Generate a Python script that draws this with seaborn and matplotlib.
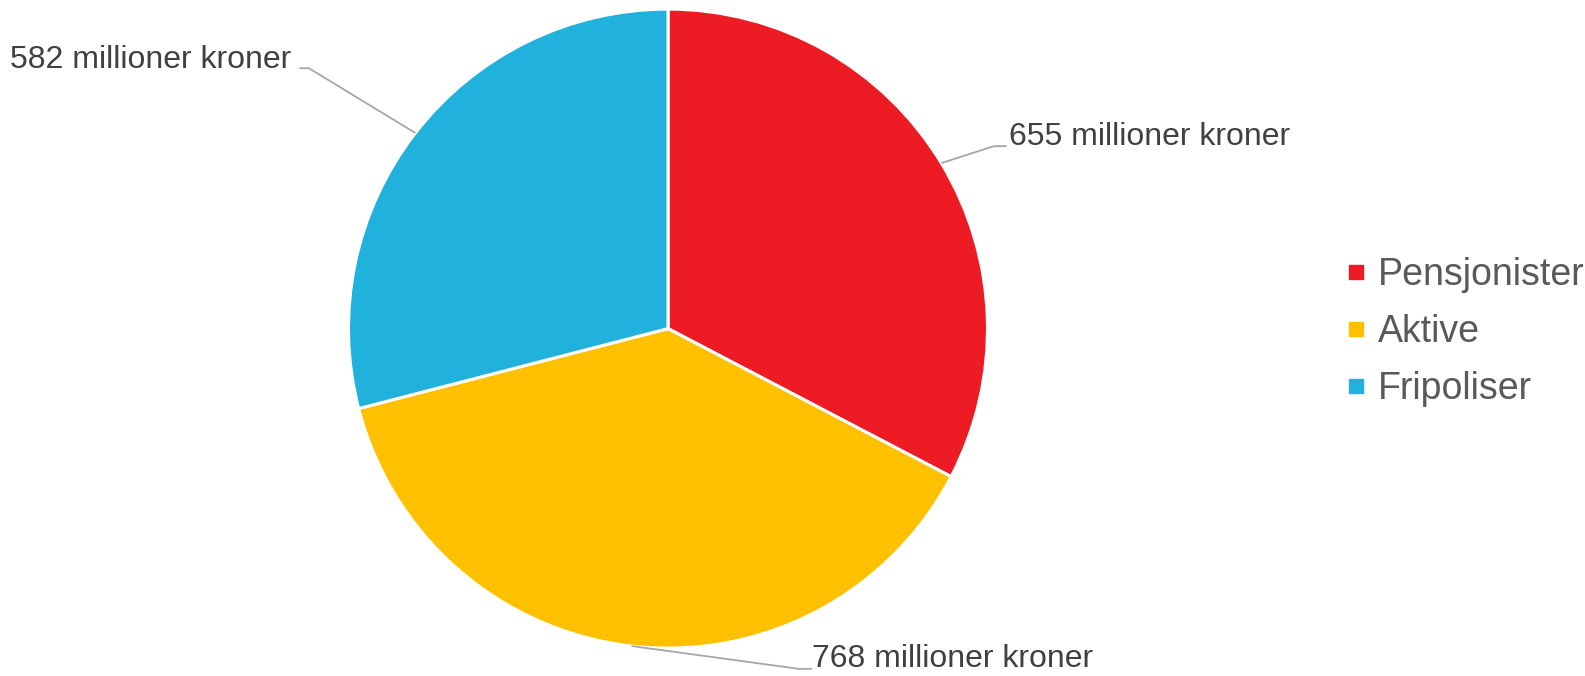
import numpy as np
import matplotlib
matplotlib.use("Agg")
import matplotlib.pyplot as plt
import seaborn as sns
from matplotlib.lines import Line2D

sns.set_theme(style="white")
plt.rcParams['font.family'] = ['Liberation Sans', 'DejaVu Sans']

categories = ["Pensjonister", "Aktive", "Fripoliser"]
values = [655, 768, 582]
labels = ["655 millioner kroner", "768 millioner kroner", "582 millioner kroner"]
colors = ["#ED1C24", "#FFC000", "#21B1DD"]

W, H = 1585, 676
fig = plt.figure(figsize=(W / 100, H / 100), dpi=100)
cx, cy, r = 668, 328.6, 319.5
ax = fig.add_axes([(cx - r) / W, (H - cy - r) / H, 2 * r / W, 2 * r / H])

wedges, _ = ax.pie(values, colors=colors, startangle=90, counterclock=False,
                   radius=1, wedgeprops=dict(edgecolor="white", linewidth=2.2))
ax.set_xlim(-1, 1)
ax.set_ylim(-1, 1)
ax.set_aspect("auto")
ax.axis("off")

# label layout: (elbow x, elbow y, text x, text y, ha, va) in data units
layout = {
    "Pensjonister": (1.020, 0.571, 1.067, 0.600, "left", "center"),
    "Aktive": (0.410, -1.065, 0.451, -1.060, "left", "baseline"),
    "Fripoliser": (-1.124, 0.815, -1.18, 0.842, "right", "center"),
}
for w, cat, lab in zip(wedges, categories, labels):
    ang = np.deg2rad((w.theta1 + w.theta2) / 2)
    px, py = np.cos(ang), np.sin(ang)
    ex, ey, tx, ty, ha, va = layout[cat]
    hx = ex + 0.04 if ha == "left" else ex - 0.03
    ax.plot([px, ex, hx], [py, ey, ey], color="#A6A6A6", lw=1.3,
            clip_on=False, solid_capstyle="butt")
    ax.text(tx, ty, lab, ha=ha, va=va, fontsize=23, color="#404040",
            clip_on=False)

handles = [Line2D([0], [0], marker="s", linestyle="", markersize=10,
                  markerfacecolor=c, markeredgecolor=c) for c in colors]
fig.legend(handles, categories, loc="center left",
           bbox_to_anchor=(1318 / W, 1 - 332 / H), frameon=False,
           fontsize=27, labelcolor="#595959", handletextpad=0.1,
           labelspacing=0.56, handlelength=1.0, borderpad=0)

fig.savefig("out.png", dpi=100, facecolor="white")
